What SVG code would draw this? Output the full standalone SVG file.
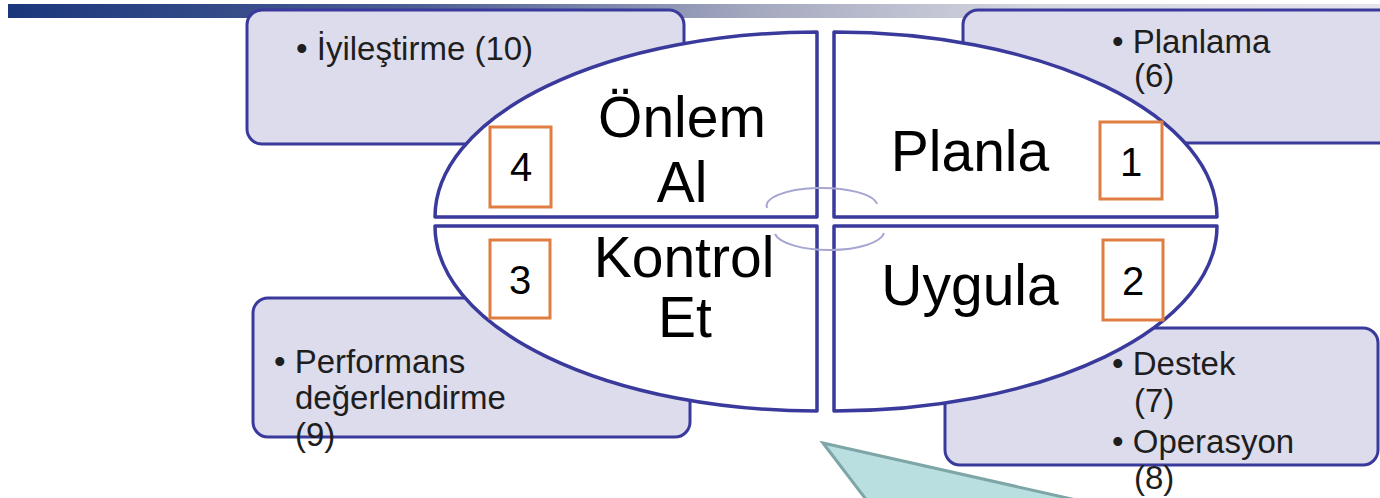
<svg xmlns="http://www.w3.org/2000/svg" width="1380" height="498" viewBox="0 0 1380 498">
<defs>
<linearGradient id="bar" x1="0" y1="0" x2="1" y2="0">
<stop offset="0" stop-color="#1b377c"/>
<stop offset="0.3" stop-color="#4d5e94"/>
<stop offset="0.55" stop-color="#a6aac0"/>
<stop offset="0.75" stop-color="#d4d6e0"/>
<stop offset="1" stop-color="#e4e4ec"/>
</linearGradient>
<style>
.box{fill:#dcdcec;stroke:#3a3a9c;stroke-width:3}
.quad{fill:#ffffff;stroke:#3a3a9c;stroke-width:3.5;stroke-linejoin:round}
.num{fill:none;stroke:#e07e42;stroke-width:3}
.big{font-family:"Liberation Sans",Arial,sans-serif;font-size:57px;fill:#000;text-anchor:middle}
.n{font-family:"Liberation Sans",Arial,sans-serif;font-size:40px;fill:#000;text-anchor:middle}
.sm{font-family:"Liberation Sans",Arial,sans-serif;font-size:33px;fill:#1e1e1e}
.ring{fill:none;stroke:#a6a6d2;stroke-width:2}
</style>
</defs>
<rect x="8" y="4" width="1372" height="14" fill="url(#bar)"/>
<g id="box-iyilestirme">
<rect class="box" x="247" y="10" width="437" height="134" rx="15"/>
<text class="sm" x="296" y="60">• İyileştirme (10)</text>
</g>
<g id="box-planlama">
<rect class="box" x="963" y="10" width="440" height="133" rx="15"/>
<text class="sm" x="1112" y="53">• Planlama</text>
<text class="sm" x="1134" y="87">(6)</text>
</g>
<g id="box-performans">
<rect class="box" x="253" y="298" width="437" height="139" rx="15"/>
<text class="sm" x="274" y="373">• Performans</text>
<text class="sm" x="295" y="409">değerlendirme</text>
<text class="sm" x="295" y="446">(9)</text>
</g>
<g id="box-destek">
<rect class="box" x="945" y="328" width="433" height="137" rx="15"/>
<text class="sm" x="1112" y="375">• Destek</text>
<text class="sm" x="1134" y="412">(7)</text>
<text class="sm" x="1112" y="453">• Operasyon</text>
<text class="sm" x="1134" y="489">(8)</text>
</g>
<g id="quad-onlem-al">
<path class="quad" d="M817,217 L435,217 A382,185 0 0 1 817,32 Z"/>
<text class="big" x="682" y="137">Önlem</text>
<text class="big" x="682" y="202">Al</text>
<rect class="num" x="490" y="127" width="61" height="80"/>
<text class="n" x="521" y="181">4</text>
</g>
<g id="quad-planla">
<path class="quad" d="M834,217 L1217,217 A383,185 0 0 0 834,32 Z"/>
<text class="big" x="970" y="171">Planla</text>
<rect class="num" x="1100" y="122" width="62" height="77"/>
<text class="n" x="1131" y="176">1</text>
</g>
<g id="quad-kontrol-et">
<path class="quad" d="M817,226 L435,226 A382,185 0 0 0 817,411 Z"/>
<text class="big" x="684" y="277">Kontrol</text>
<text class="big" x="685" y="337">Et</text>
<rect class="num" x="490" y="240" width="60" height="78"/>
<text class="n" x="520" y="294">3</text>
</g>
<g id="quad-uygula">
<path class="quad" d="M834,226 L1217,226 A383,185 0 0 1 834,411 Z"/>
<text class="big" x="970" y="305">Uygula</text>
<rect class="num" x="1103" y="240" width="60" height="80"/>
<text class="n" x="1133" y="295">2</text>
</g>
<g id="connectors">
<path class="ring" d="M767,208 A55,18 0 0 1 877,204"/>
<path class="ring" d="M775,234 A55,19 0 0 0 884,233"/>
</g>
<g id="callout">
<polygon points="823,443 1085,502 868,502" fill="#b9dfe0" stroke="#7ea6a6" stroke-width="3"/>
</g>
</svg>
